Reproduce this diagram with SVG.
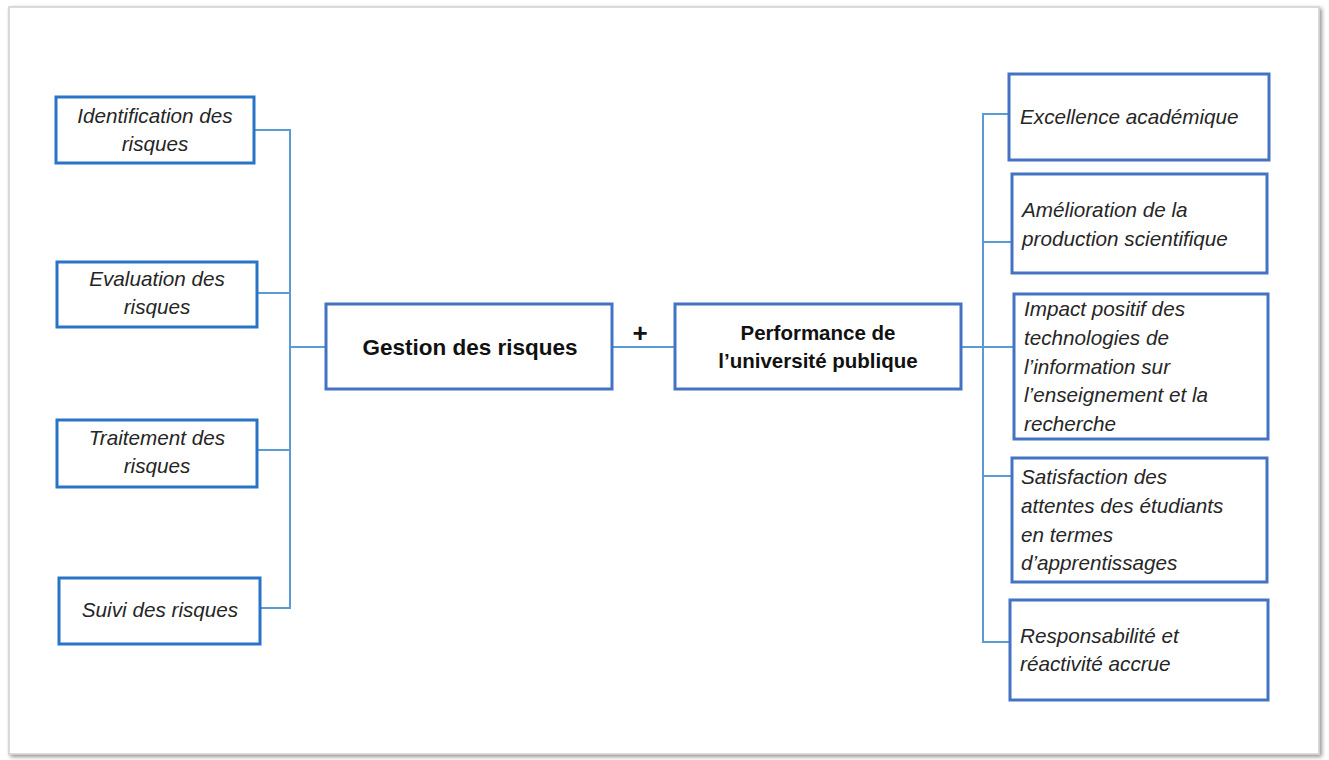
<svg xmlns="http://www.w3.org/2000/svg" width="1329" height="760" viewBox="0 0 1329 760">
<defs>
<filter id="sh" x="-5%" y="-5%" width="110%" height="110%">
<feGaussianBlur in="SourceAlpha" stdDeviation="2"/>
<feOffset dx="2" dy="2"/>
<feComponentTransfer><feFuncA type="linear" slope="0.45"/></feComponentTransfer>
<feMerge><feMergeNode/><feMergeNode in="SourceGraphic"/></feMerge>
</filter>
</defs>
<style>
.box{fill:#fff;stroke:#4472C4;stroke-width:3}
.boxl{fill:#fff;stroke:#2874C6;stroke-width:3}
.con{fill:none;stroke:#5B9BD5;stroke-width:2}
.t{font-family:"Liberation Sans",Arial,sans-serif;font-style:italic;font-size:20.7px;fill:#262626}
.c{text-anchor:middle}
.b{font-family:"Liberation Sans",Arial,sans-serif;font-weight:bold;fill:#111;text-anchor:middle}
</style>
<rect x="0" y="0" width="1329" height="760" fill="#fff"/>
<rect x="9" y="7" width="1310" height="747" fill="#fff" stroke="#d0d0d0" stroke-width="1.5" filter="url(#sh)"/>
<g id="connectors">
<path class="con" d="M254 130 H290 V608 H260"/>
<path class="con" d="M257 293 H290"/>
<path class="con" d="M257 450 H290"/>
<path class="con" d="M290 347 H326"/>
<path class="con" d="M612 347 H675"/>
<path class="con" d="M961 347 H1014"/>
<path class="con" d="M1009 114 H983 V642 H1010"/>
<path class="con" d="M983 242 H1012"/>
<path class="con" d="M983 476 H1012"/>
</g>
<g id="identification"><rect class="boxl" x="56" y="97" width="198" height="66"/><text class="t c" x="155" y="123">Identification des</text><text class="t c" x="155" y="151">risques</text></g>
<g id="evaluation"><rect class="boxl" x="57" y="262" width="200" height="65"/><text class="t c" x="157" y="286">Evaluation des</text><text class="t c" x="157" y="314">risques</text></g>
<g id="traitement"><rect class="boxl" x="57" y="420" width="200" height="67"/><text class="t c" x="157" y="445">Traitement des</text><text class="t c" x="157" y="473">risques</text></g>
<g id="suivi"><rect class="boxl" x="59" y="578" width="201" height="66"/><text class="t c" x="160" y="617">Suivi des risques</text></g>
<g id="gestion"><rect class="box" x="326" y="304" width="286" height="85"/><text class="b" x="470" y="355" font-size="22.5">Gestion des risques</text></g>
<g id="plus"><text class="b" x="640" y="342" font-size="26">+</text></g>
<g id="performance"><rect class="box" x="675" y="304" width="286" height="85"/><text class="b" x="818" y="340" font-size="20.5">Performance de</text><text class="b" x="818" y="368" font-size="20.5">l’université publique</text></g>
<g id="excellence"><rect class="box" x="1009" y="74" width="260" height="86"/><text class="t" x="1020" y="124">Excellence académique</text></g>
<g id="amelioration"><rect class="box" x="1012" y="174" width="255" height="99"/><text class="t" x="1022" y="217">Amélioration de la</text><text class="t" x="1022" y="246">production scientifique</text></g>
<g id="impact"><rect class="box" x="1014" y="294" width="254" height="145"/><text class="t" x="1024" y="316">Impact positif des</text><text class="t" x="1024" y="345">technologies de</text><text class="t" x="1024" y="374">l’information sur</text><text class="t" x="1024" y="402">l’enseignement et la</text><text class="t" x="1024" y="431">recherche</text></g>
<g id="satisfaction"><rect class="box" x="1012" y="458" width="255" height="124"/><text class="t" x="1021" y="484">Satisfaction des</text><text class="t" x="1021" y="513">attentes des étudiants</text><text class="t" x="1021" y="542">en termes</text><text class="t" x="1021" y="570">d’apprentissages</text></g>
<g id="responsabilite"><rect class="box" x="1010" y="600" width="258" height="100"/><text class="t" x="1020" y="643">Responsabilité et</text><text class="t" x="1020" y="671">réactivité accrue</text></g>
</svg>
